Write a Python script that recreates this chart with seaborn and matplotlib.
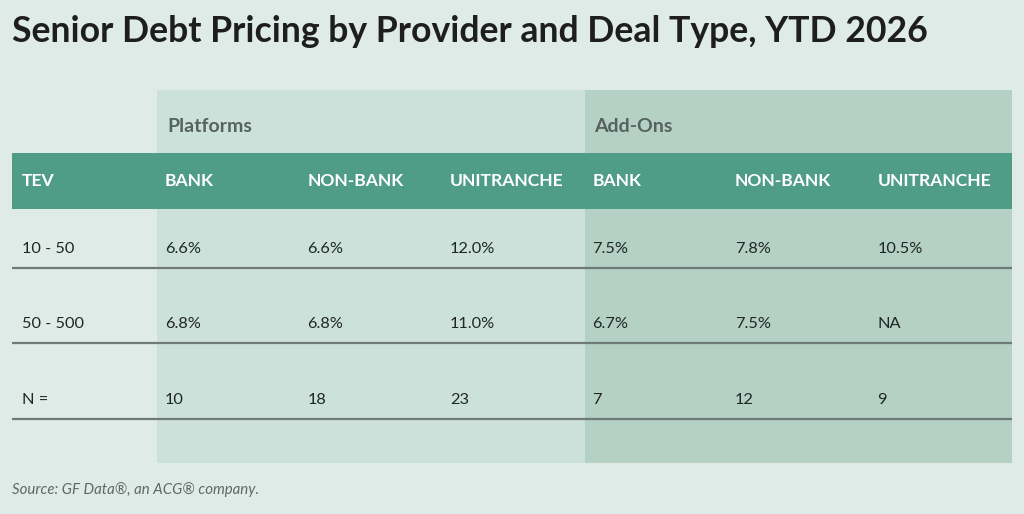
"""
Senior debt pricing table by provider and deal type, YTD 2026.
"""

import numpy as np
import matplotlib.pyplot as plt
import seaborn as sns
from matplotlib.patches import Rectangle

# Data
title = "Senior Debt Pricing by Provider and Deal Type, YTD 2026"
source = "Source: GF Data\u00ae, an ACG\u00ae company."
tev_labels = ['10 - 50', '50 - 500', 'N =']
deal_types = ['Platforms', 'Add-Ons']
providers = ['BANK', 'NON-BANK', 'UNITRANCHE']
platform_rates = [[6.6, 6.6, 12.0], [6.8, 6.8, 11.0]]
platform_counts = [10, 18, 23]
addon_rates = [[7.5, 7.8, 10.5], [6.7, 7.5, np.nan]]
addon_counts = [7, 12, 9]

sns.set_theme(style='white')
plt.rcParams['font.family'] = ['Lato', 'DejaVu Sans']

bg = '#dfebe7'
panel_colors = ['#cde1db', '#b5d0c5']
header_color = '#4f9d87'
text_color = '#1f2724'
rule_color = '#6f7b77'


def fmt_rate(v):
    return 'NA' if np.isnan(v) else f'{v:.1f}%'


fig = plt.figure(figsize=(10.24, 5.14), dpi=100, facecolor=bg)
ax = fig.add_axes([0, 0, 1, 1])
ax.set_xlim(0, 1024)
ax.set_ylim(514, 0)
ax.axis('off')
ax.set_facecolor(bg)

# layout in pixels
left, right = 12, 1012
col0 = 157
col_w = (right - col0) / 6
panel_top, panel_bottom = 90, 463
header_top, header_bottom = 153, 209
row_y = [249, 324, 400]

# deal type panels
for g, name in enumerate(deal_types):
    x0 = col0 + g * 3 * col_w
    ax.add_patch(Rectangle((x0, panel_top), 3 * col_w, panel_bottom - panel_top,
                           facecolor=panel_colors[g], edgecolor='none', zorder=1))
    ax.text(x0 + 10, 126, name, fontsize=14, fontweight='bold', color='#56625d',
            va='center', ha='left', zorder=3)

# header band
ax.add_patch(Rectangle((left, header_top), right - left, header_bottom - header_top,
                       facecolor=header_color, edgecolor='none', zorder=2))
ax.text(22, 181, 'TEV', fontsize=12.6, fontweight='bold', color='white',
        va='center', ha='left', zorder=3)
for g in range(2):
    for j, p in enumerate(providers):
        x = col0 + (g * 3 + j) * col_w + 8
        ax.text(x, 181, p, fontsize=12.6, fontweight='bold', color='white',
                va='center', ha='left', zorder=3)

# body rows
cells = []
for i in range(2):
    cells.append([fmt_rate(v) for v in platform_rates[i]] + [fmt_rate(v) for v in addon_rates[i]])
cells.append([str(v) for v in platform_counts] + [str(v) for v in addon_counts])

for i, label in enumerate(tev_labels):
    y = row_y[i]
    ax.text(22, y, label, fontsize=11.8, color=text_color, va='center', ha='left', zorder=3)
    for j, val in enumerate(cells[i]):
        ax.text(col0 + j * col_w + 8, y, val, fontsize=11.8, color=text_color,
                va='center', ha='left', zorder=3)
    ax.plot([left, right], [y + 19, y + 19], color=rule_color, lw=1.6, zorder=3,
            solid_capstyle='butt')

# title and source
ax.text(12, 32, title, fontsize=25.7, fontweight='bold', color='#1e1e1e',
        va='center', ha='left')
ax.text(12, 490, source, fontsize=10.8, style='italic', color='#5f6864',
        va='center', ha='left')

plt.savefig('out.png', dpi=100, facecolor=bg)
